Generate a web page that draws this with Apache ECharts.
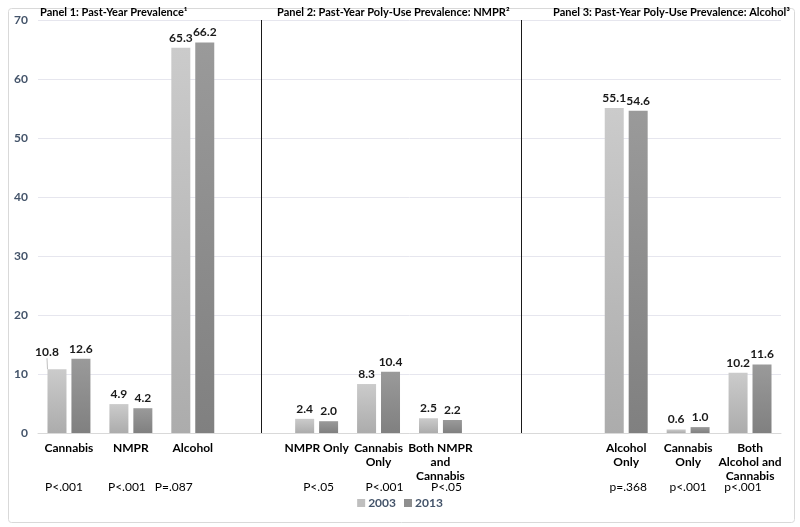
<!DOCTYPE html>
<html>
<head>
<meta charset="utf-8">
<script src="https://cdn.jsdelivr.net/npm/echarts@6/dist/echarts.min.js"></script>
<style>html,body{margin:0;padding:0;background:#fff}#c{width:800px;height:527px}</style>
</head>
<body>
<div id="c"></div>
<script>
// ---- data ----
const categories = ['Cannabis', 'NMPR', 'Alcohol', '', 'NMPR Only', 'Cannabis\nOnly', 'Both NMPR\nand\nCannabis', '', '', 'Alcohol\nOnly', 'Cannabis\nOnly', 'Both\nAlcohol and\nCannabis'];
const pValues = ['P<.001', 'P<.001', 'P=.087', '', 'P<.05', 'P<.001', 'P<.05', '', '', 'p=.368', 'p<.001', 'p<.001'];
const values2003 = [10.8, 4.9, 65.3, null, 2.4, 8.3, 2.5, null, null, 55.1, 0.6, 10.2];
const values2013 = [12.6, 4.2, 66.2, null, 2.0, 10.4, 2.2, null, null, 54.6, 1.0, 11.6];
const seriesNames = ['2003', '2013'];
const panelTitles = ['Panel 1: Past-Year Prevalence\u00B9', 'Panel 2: Past-Year Poly-Use Prevalence: NMPR\u00B2', 'Panel 3: Past-Year Poly-Use Prevalence: Alcohol\u00B3'];
const dividerPositions = [3.6, 7.8]; // in category units (0..12)
const yTicks = {min: 0, max: 70, interval: 10};

// layout-only: horizontal nudge (px) of each p-value label
const pShift = [-5, -4, -19, 0, 2, 6, 6, 0, 0, 2, 0, -7];

const FONT = 'Lato';
const chart = echarts.init(document.getElementById('c'), null, {renderer: 'canvas'});

function grad(top, bottom) {
  return new echarts.graphic.LinearGradient(0, 0, 0, 1, [{offset: 0, color: top}, {offset: 1, color: bottom}]);
}
const colors = [grad('#cbcbcb', '#acacac'), grad('#9a9a9a', '#808080')];
const legendColors = ['#bfbfbf', '#8f8f8f'];

const valueLabel = {show: true, position: 'top', distance: 4, fontFamily: FONT, fontSize: 12, fontWeight: 'bold', color: '#1a1a1a',
  formatter: (p) => p.value == null ? '' : Number(p.value).toFixed(1)};

const data2003 = values2003.map((v, i) => i === 0
  ? {value: v, labelLine: {show: true, lineStyle: {color: '#bfbfbf', width: 1}}}
  : v);

const option = {
  animation: false,
  textStyle: {fontFamily: FONT},
  title: panelTitles.map((t, i) => ({
    text: t,
    left: [40, 277, 553][i],
    top: 7,
    padding: 0,
    textStyle: {fontFamily: FONT, fontSize: 11, fontWeight: 'bold', color: '#000'}
  })),
  legend: {
    data: seriesNames.map((n, i) => ({name: n, itemStyle: {color: legendColors[i]}})),
    left: 'center',
    top: 492,
    icon: 'rect',
    itemWidth: 8,
    itemHeight: 8,
    itemGap: 8,
    textStyle: {fontFamily: FONT, fontSize: 12, fontWeight: 'bold', color: '#44546a', padding: [0, 0, 0, -2]}
  },
  grid: {left: 38, right: 19, top: 20, bottom: 94, containLabel: false},
  xAxis: [
    {
      type: 'category', data: categories, position: 'bottom',
      axisLine: {show: true, lineStyle: {color: '#d9d9d9'}},
      axisTick: {show: false},
      axisLabel: {interval: 0, margin: 8, fontFamily: FONT, fontSize: 12, fontWeight: 'bold', color: '#000', lineHeight: 14}
    },
    {
      type: 'category', data: pValues.map((v, i) => ({value: v, textStyle: {
        padding: pShift[i] < 0 ? [0, -2 * pShift[i], 0, 0] : [0, 0, 0, 2 * pShift[i]]}})),
      position: 'bottom', offset: 40,
      axisLine: {show: false}, axisTick: {show: false},
      axisLabel: {interval: 0, margin: 8, fontFamily: FONT, fontSize: 12, color: '#000'}
    },
    {type: 'value', min: 0, max: 12, show: false}
  ],
  yAxis: {
    type: 'value', min: yTicks.min, max: yTicks.max, interval: yTicks.interval,
    axisLine: {show: false}, axisTick: {show: false},
    axisLabel: {margin: 10, fontFamily: FONT, fontSize: 12, fontWeight: 'bold', color: '#44546a'},
    splitLine: {lineStyle: {color: '#e6e6ee', width: 1}}
  },
  series: [
    {
      name: seriesNames[0], type: 'bar', xAxisIndex: 0, data: data2003,
      barWidth: 19, barGap: '26%',
      itemStyle: {color: colors[0]},
      label: valueLabel,
      labelLine: {show: false},
      labelLayout: (params) => params.dataIndex === 0 ? {dx: -10, dy: -7} : {}
    },
    {
      name: seriesNames[1], type: 'bar', xAxisIndex: 0, data: values2013,
      barWidth: 19, barGap: '26%',
      itemStyle: {color: colors[1]},
      label: valueLabel
    },
    {
      name: 'dividers', type: 'scatter', xAxisIndex: 2, data: [], silent: true,
      markLine: {
        symbol: 'none', silent: true, label: {show: false},
        lineStyle: {color: '#1a1a1a', width: 1, type: 'solid'},
        data: dividerPositions.map((x) => ({xAxis: x}))
      }
    }
  ],
  graphic: [{
    type: 'rect', left: 6, top: 6, shape: {width: 786, height: 514, r: 3},
    style: {fill: 'none', stroke: '#d9d9d9', lineWidth: 1}, silent: true, z: -1
  }]
};
chart.setOption(option);
</script>
</body>
</html>
